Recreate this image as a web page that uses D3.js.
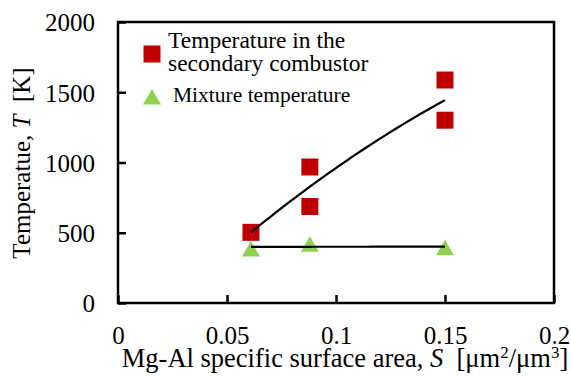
<!DOCTYPE html>
<html>
<head>
<meta charset="utf-8">
<script src="https://cdn.jsdelivr.net/npm/d3@7"></script>
<style>
  body { margin: 0; background: #fff; }
  svg text { font-family: "Liberation Serif", "Times New Roman", serif; fill: #000; white-space: pre; }
</style>
</head>
<body>
<div id="chart"></div>
<script>
// data
var surfaceArea = [0.061, 0.088, 0.088, 0.15, 0.15];
var combustorTemp = [503, 968, 687, 1587, 1301];
var mixtureArea = [0.061, 0.088, 0.15];
var mixtureTemp = [386, 420, 395];
var xTicks = [0, 0.05, 0.1, 0.15, 0.2];
var yTicks = [0, 500, 1000, 1500, 2000];

var W = 571, H = 377;
var margin = {top: 22, right: 17, bottom: 74, left: 118},
  width = W - margin.left - margin.right,
  height = H - margin.top - margin.bottom;

var red = "#C00000", green = "#92D050";
var serif = "'Liberation Serif', 'Times New Roman', serif";

var svg = d3.select("#chart")
  .append("svg")
    .attr("width", W)
    .attr("height", H);

var g = svg.append("g")
    .attr("transform", "translate(" + margin.left + "," + margin.top + ")");

var x = d3.scaleLinear().domain([0, 0.2]).range([0, width]);
var y = d3.scaleLinear().domain([0, 2000]).range([height, 0]);

// frame
g.append("rect")
  .attr("width", width)
  .attr("height", height)
  .attr("fill", "none")
  .attr("stroke", "#000")
  .attr("stroke-width", 2.5);

// inward ticks
var xAxis = g.append("g")
    .attr("transform", "translate(0," + height + ")")
    .call(d3.axisBottom(x).tickValues(xTicks).tickSizeInner(-8).tickSizeOuter(0)
      .tickPadding(23).tickFormat(function(d) { return String(d); }));
var yAxis = g.append("g")
    .call(d3.axisLeft(y).tickValues(yTicks).tickSizeInner(-8).tickSizeOuter(0)
      .tickPadding(23).tickFormat(function(d) { return String(d); }));

[xAxis, yAxis].forEach(function(a) {
  a.attr("font-family", serif).attr("font-size", 25);
  a.select(".domain").remove();
  a.selectAll("line").attr("stroke", "#000").attr("stroke-width", 2.5);
  a.selectAll("text")
    .style("font-family", serif)
    .style("font-size", "25px")
    .attr("fill", "#000");
});
yAxis.selectAll("text").attr("dy", "0.35em");
xAxis.selectAll("text").attr("dy", "0.71em");

// least-squares polynomial fit
function polyfit(xs, ys, deg) {
  var n = deg + 1, A = [], b = [];
  for (var i = 0; i < n; i++) {
    A.push([]);
    for (var j = 0; j < n; j++) {
      A[i].push(d3.sum(xs, function(v) { return Math.pow(v, i + j); }));
    }
    b.push(d3.sum(xs, function(v, k) { return ys[k] * Math.pow(v, i); }));
  }
  // gauss elimination
  for (var c = 0; c < n; c++) {
    for (var r = c + 1; r < n; r++) {
      var f = A[r][c] / A[c][c];
      for (var k = c; k < n; k++) A[r][k] -= f * A[c][k];
      b[r] -= f * b[c];
    }
  }
  var coef = new Array(n);
  for (var r2 = n - 1; r2 >= 0; r2--) {
    var s = b[r2];
    for (var k2 = r2 + 1; k2 < n; k2++) s -= A[r2][k2] * coef[k2];
    coef[r2] = s / A[r2][r2];
  }
  return function(v) {
    return d3.sum(coef, function(cf, p) { return cf * Math.pow(v, p); });
  };
}

var fitRed = polyfit(surfaceArea, combustorTemp, 2);
var fitGreen = polyfit(mixtureArea, mixtureTemp, 1);

var line = d3.line()
    .x(function(d) { return x(d[0]); })
    .y(function(d) { return y(d[1]); });

function fitPoints(xs, f) {
  var lo = d3.min(xs), hi = d3.max(xs);
  return d3.range(0, 41).map(function(i) {
    var v = lo + (hi - lo) * i / 40;
    return [v, f(v)];
  });
}

var sq = d3.symbol().type(d3.symbolSquare).size(17 * 17);
var tri = d3.symbol().type(d3.symbolTriangle).size(140);

g.selectAll(".sq")
  .data(surfaceArea)
  .enter().append("path")
    .attr("class", "sq")
    .attr("d", sq)
    .attr("fill", red)
    .attr("transform", function(d, i) { return "translate(" + x(d) + "," + y(combustorTemp[i]) + ")"; });

// triangle path is centred on its centroid, shift so the box centre sits on the value
g.selectAll(".tri")
  .data(mixtureArea)
  .enter().append("path")
    .attr("class", "tri")
    .attr("d", tri)
    .attr("fill", green)
    .attr("transform", function(d, i) { return "translate(" + x(d) + "," + (y(mixtureTemp[i]) + 2.6) + ")"; });

g.append("path")
  .attr("d", line(fitPoints(surfaceArea, fitRed)))
  .attr("fill", "none")
  .attr("stroke", "#000")
  .attr("stroke-width", 2.2);

g.append("path")
  .attr("d", line(fitPoints(mixtureArea, fitGreen)))
  .attr("fill", "none")
  .attr("stroke", "#000")
  .attr("stroke-width", 2.2);

// legend
svg.append("path").attr("d", sq).attr("fill", red).attr("transform", "translate(152,54)");
svg.append("path").attr("d", tri).attr("fill", green).attr("transform", "translate(152,99.3)");
var leg = svg.append("text").attr("font-size", 23.5);
leg.append("tspan").attr("x", 168).attr("y", 48).text("Temperature in the");
leg.append("tspan").attr("x", 168).attr("y", 71).text("secondary combustor");
svg.append("text").attr("font-size", 21.5).attr("x", 173).attr("y", 102).text("Mixture temperature");

// axis titles
var xt = svg.append("text")
  .attr("font-size", 26.5)
  .attr("x", 345).attr("y", 367)
  .attr("text-anchor", "middle");
xt.append("tspan").text("Mg-Al specific surface area, ");
xt.append("tspan").attr("font-style", "italic").text("S");
xt.append("tspan").text("  [μm");
xt.append("tspan").attr("font-size", 17).attr("dy", -9).text("2");
xt.append("tspan").attr("dy", 9).text("/μm");
xt.append("tspan").attr("font-size", 17).attr("dy", -9).text("3");
xt.append("tspan").attr("dy", 9).text("]");

var yt = svg.append("text")
  .attr("font-size", 25)
  .attr("text-anchor", "middle")
  .attr("transform", "translate(30,163) rotate(-90)");
yt.append("tspan").text("Temperatue, ");
yt.append("tspan").attr("font-style", "italic").text("T");
yt.append("tspan").text("  [K]");
</script>
</body>
</html>
